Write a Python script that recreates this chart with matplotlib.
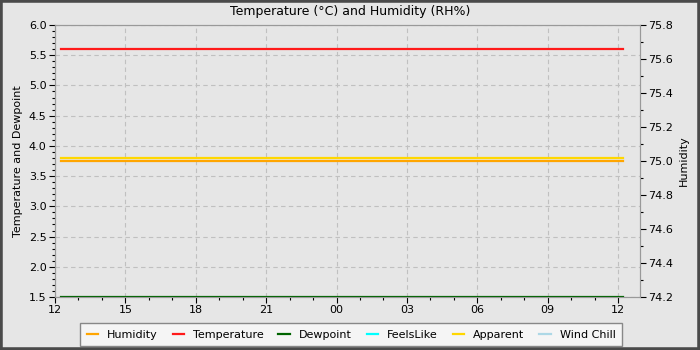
import matplotlib
matplotlib.use("Agg")
import matplotlib.pyplot as plt
import matplotlib.dates as mdates
from matplotlib.patches import Rectangle
from matplotlib.ticker import MultipleLocator, FormatStrFormatter
from datetime import datetime

times = ["2024-01-01 12:15", "2024-01-01 15:15", "2024-01-01 18:15", "2024-01-01 21:15",
         "2024-01-02 00:15", "2024-01-02 03:15", "2024-01-02 06:15", "2024-01-02 09:15",
         "2024-01-02 12:12"]
humidity = [75.0, 75.0, 75.0, 75.0, 75.0, 75.0, 75.0, 75.0, 75.0]
temperature = [5.6, 5.6, 5.6, 5.6, 5.6, 5.6, 5.6, 5.6, 5.6]
dewpoint = [1.5, 1.5, 1.5, 1.5, 1.5, 1.5, 1.5, 1.5, 1.5]
feelslike = []
apparent = [3.8, 3.8, 3.8, 3.8, 3.8, 3.8, 3.8, 3.8, 3.8]
windchill = []

t = [datetime.strptime(s, "%Y-%m-%d %H:%M") for s in times]

bg = "#e6e6e6"
plt.rcParams["font.family"] = ["DejaVu Sans"]
plt.rcParams["font.size"] = 8

fig = plt.figure(figsize=(7, 3.5), dpi=100, facecolor=bg)
ax = fig.add_axes([55/700, 1-297/350, (640-55)/700, (297-25)/350])
ax.set_facecolor(bg)
ax2 = ax.twinx()

lw = 1.6
h_hum, = ax2.plot(t, humidity, color="#ffa500", lw=lw, label="Humidity", zorder=2)
h_tmp, = ax.plot(t, temperature, color="#ff1a1a", lw=lw, label="Temperature", zorder=3)
h_dew, = ax.plot(t, dewpoint, color="#006400", lw=lw, label="Dewpoint", zorder=3)
h_fl, = ax.plot(t[:len(feelslike)], feelslike, color="#00ffff", lw=lw, label="FeelsLike")
h_app, = ax.plot(t, apparent, color="#ffd700", lw=lw, label="Apparent", zorder=3)
h_wc, = ax.plot(t[:len(windchill)], windchill, color="#add8e6", lw=lw, label="Wind Chill")

ax.set_ylim(1.5, 6.0)
ax2.set_ylim(74.2, 75.8)
ax.set_xlim(datetime(2024, 1, 1, 12, 0), datetime(2024, 1, 2, 12, 56))

ax.yaxis.set_major_locator(MultipleLocator(0.5))
ax.yaxis.set_minor_locator(MultipleLocator(0.1))
ax2.yaxis.set_major_locator(MultipleLocator(0.2))
ax2.yaxis.set_minor_locator(MultipleLocator(0.1))
ax.xaxis.set_major_locator(mdates.HourLocator(byhour=range(0, 24, 3)))
ax.xaxis.set_minor_locator(mdates.HourLocator())
ax.xaxis.set_major_formatter(mdates.DateFormatter("%H"))
ax.yaxis.set_major_formatter(FormatStrFormatter("%.1f"))
ax2.yaxis.set_major_formatter(FormatStrFormatter("%.1f"))

ax.grid(True, which="major", color="#c0c0c0", linestyle=(0, (4, 3)), linewidth=0.8)
ax.set_axisbelow(True)

for a in (ax, ax2):
    for sp in a.spines.values():
        sp.set_color("#999999")
    a.tick_params(which="major", length=4, width=0.8, color="black", labelsize=8, pad=2)
    a.tick_params(which="minor", length=2.5, width=0.8, color="black")

ax.set_ylabel("Temperature and Dewpoint", fontsize=8, labelpad=4)
ax2.set_ylabel("Humidity", fontsize=8, labelpad=4)
fig.text(0.5, 1-12/350, "Temperature (°C) and Humidity (RH%)", ha="center", va="center", fontsize=9)

leg = fig.legend(handles=[h_hum, h_tmp, h_dew, h_fl, h_app, h_wc], loc="center",
                 bbox_to_anchor=(351/700, 1-334.5/350), ncol=6, fontsize=8,
                 handlelength=1.05, handletextpad=0.8, columnspacing=1.32,
                 frameon=True, fancybox=False, edgecolor="#888888", facecolor="#f5f5f5",
                 framealpha=1, borderpad=0.6)
leg.get_frame().set_linewidth(1.0)

fig.patches.append(Rectangle((0, 0), 1, 1, transform=fig.transFigure, fill=False,
                             edgecolor="#4a4a4a", linewidth=4, zorder=10))

fig.savefig("out.png", dpi=100, facecolor=bg)
